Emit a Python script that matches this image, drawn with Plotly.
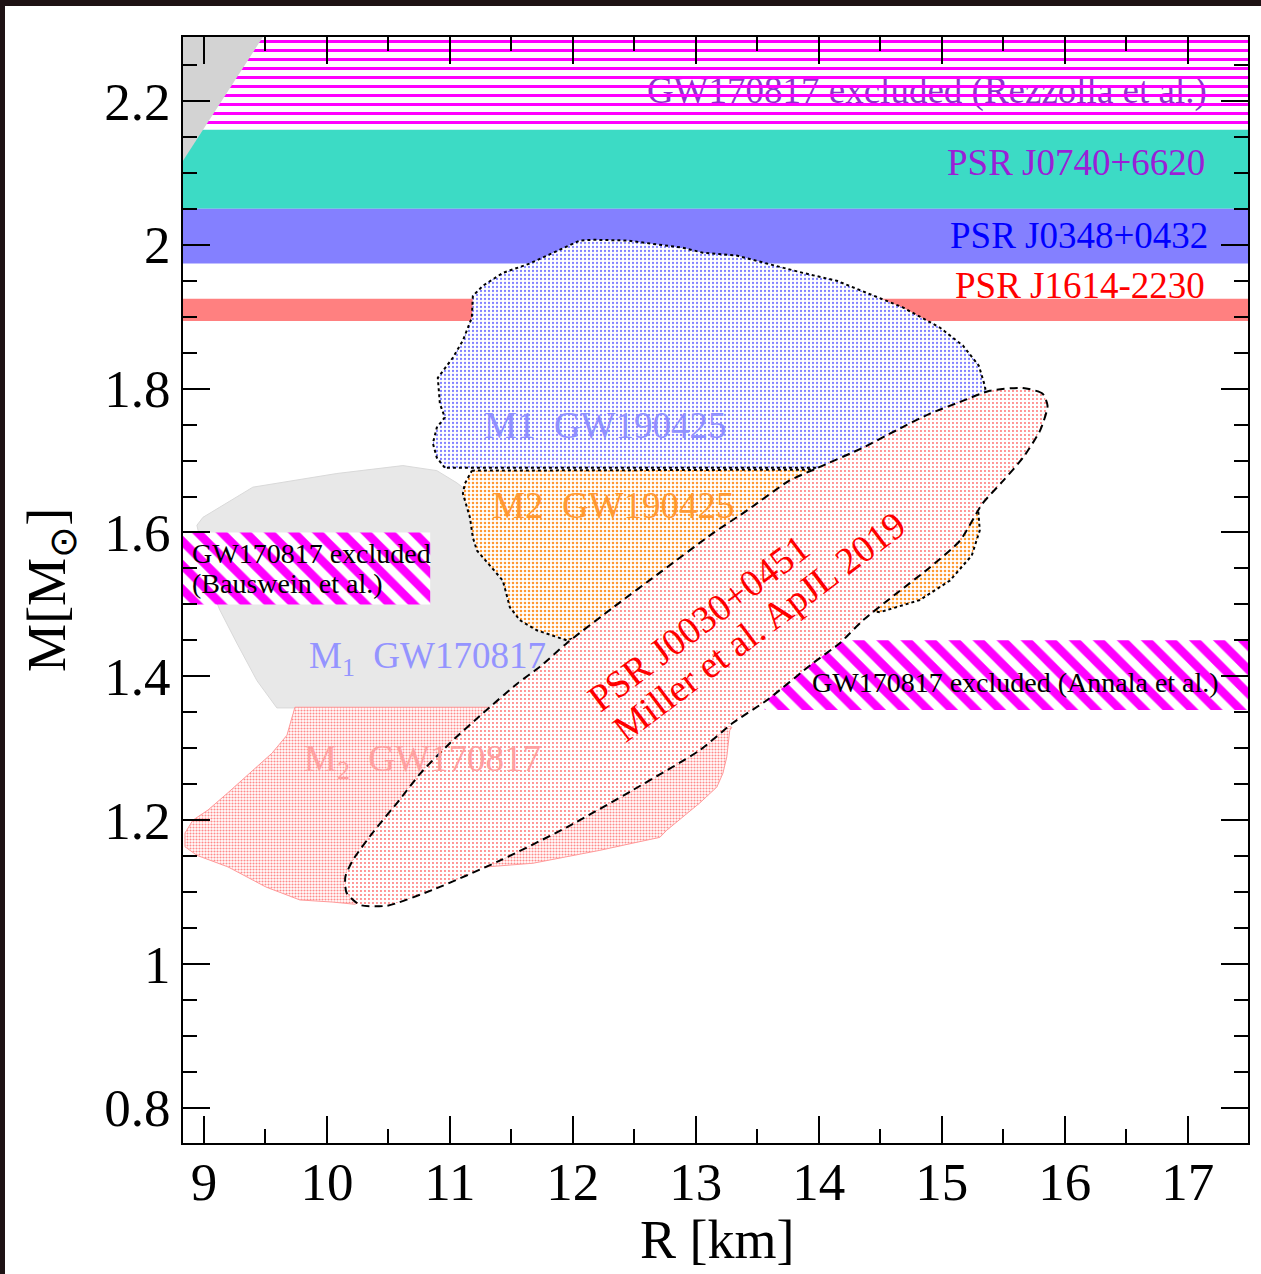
import plotly.graph_objects as go

# ---------------- axes ----------------
R_RANGE = [8.83, 17.49]
M_RANGE = [0.751, 2.289]
R_TICKS = [9, 10, 11, 12, 13, 14, 15, 16, 17]
R_TICK_LABELS = ["9", "10", "11", "12", "13", "14", "15", "16", "17"]
M_TICKS = [0.8, 1.0, 1.2, 1.4, 1.6, 1.8, 2.0, 2.2]
M_TICK_LABELS = ["0.8", "1", "1.2", "1.4", "1.6", "1.8", "2", "2.2"]

# ---------------- horizontal mass bands [M_low, M_high] ----------------
REZZOLLA_BAND = [2.16, 2.30]
J0740_BAND = [2.05, 2.16]
J0348_BAND = [1.974, 2.05]
J1614_BAND = [1.894, 1.925]
BAUSWEIN_M = [1.50, 1.60]
BAUSWEIN_R = [8.83, 10.84]
ANNALA_M = [1.353, 1.45]
ANNALA_R = [13.56, 17.49]

# causality-excluded corner
CAUSAL_R = [8.83, 9.48, 8.83]
CAUSAL_M = [2.117, 2.289, 2.289]

# ---------------- GW170817 regions ----------------
M1_GW170817_R = [8.943, 8.992, 9.398, 9.618, 10.081, 10.618, 10.894, 11.057, 11.244, 11.569,
                 12.138, 11.894, 11.407, 9.593, 9.431, 9.268, 9.130, 9.065, 8.943]
M1_GW170817_M = [1.610, 1.621, 1.663, 1.669, 1.682, 1.693, 1.686, 1.669, 1.644, 1.561,
                 1.464, 1.367, 1.356, 1.356, 1.394, 1.446, 1.492, 1.519, 1.610]

M2_GW170817_R = [9.740, 9.675, 9.553, 9.374, 9.195, 9.033, 8.911, 8.846, 8.846, 8.943,
                 9.195, 9.504, 9.780, 10.049, 10.228, 10.593, 11.301, 11.675, 12.220, 12.488,
                 12.707, 12.764, 12.894, 13.033, 13.171, 13.220, 13.252, 13.276, 13.293, 13.033,
                 11.569, 9.740]
M2_GW170817_M = [1.357, 1.318, 1.293, 1.265, 1.238, 1.214, 1.200, 1.182, 1.163, 1.151,
                 1.135, 1.107, 1.089, 1.086, 1.083, 1.117, 1.135, 1.140, 1.158, 1.168,
                 1.176, 1.186, 1.204, 1.224, 1.246, 1.265, 1.288, 1.325, 1.329, 1.346,
                 1.357, 1.357]

# ---------------- GW190425 regions ----------------
M1_GW190425_R = [10.959, 10.894, 10.862, 10.894, 10.959, 10.919, 10.902, 10.943, 11.024, 11.106,
                 11.179, 11.187, 11.268, 11.431, 11.650, 12.057, 12.163, 12.439, 12.650, 12.894,
                 13.057, 13.333, 13.577, 13.870, 14.146, 14.415, 14.683, 14.984, 15.171, 15.301,
                 15.350, 15.382, 15.390, 14.089, 10.959]
M1_GW190425_M = [1.690, 1.704, 1.724, 1.746, 1.760, 1.779, 1.815, 1.825, 1.843, 1.867,
                 1.899, 1.929, 1.943, 1.961, 1.974, 2.006, 2.007, 2.006, 2.001, 1.996,
                 1.989, 1.985, 1.974, 1.961, 1.950, 1.932, 1.913, 1.885, 1.860, 1.832,
                 1.804, 1.769, 1.742, 1.690, 1.690]

M2_GW190425_R = [11.179, 14.089, 15.228, 15.293, 15.309, 15.244, 15.065, 14.821, 14.496, 13.846,
                 12.220, 11.951, 11.707, 11.569, 11.488, 11.431, 11.220, 11.187, 11.163, 11.106,
                 11.122, 11.179]
M2_GW190425_M = [1.686, 1.6875, 1.686, 1.6375, 1.603, 1.568, 1.533, 1.506, 1.489, 1.506,
                 1.464, 1.450, 1.464, 1.478, 1.496, 1.533, 1.575, 1.593, 1.621, 1.654,
                 1.668, 1.686]

# ---------------- PSR J0030+0451 (Miller et al.) ----------------
J0030_R = [15.86, 15.82, 15.66, 15.39, 15.17, 14.90, 14.63, 14.36, 13.98, 13.76,
           13.42, 13.14, 12.73, 12.33, 11.95, 11.73, 11.55, 11.27, 11.00, 10.76,
           10.59, 10.37, 10.21, 10.15, 10.16, 10.27, 10.49, 10.86, 11.41, 11.95,
           12.49, 13.03, 13.30, 13.58, 13.95, 14.17, 14.36, 14.63, 14.90, 15.15,
           15.33, 15.50, 15.66, 15.80, 15.86]
J0030_M = [1.776, 1.793, 1.801, 1.797, 1.783, 1.765, 1.742, 1.718, 1.689, 1.672,
           1.631, 1.599, 1.547, 1.496, 1.446, 1.413, 1.390, 1.349, 1.307, 1.265,
           1.228, 1.182, 1.144, 1.121, 1.099, 1.082, 1.081, 1.103, 1.144, 1.190,
           1.242, 1.297, 1.335, 1.367, 1.418, 1.446, 1.478, 1.515, 1.551, 1.589,
           1.640, 1.672, 1.704, 1.742, 1.776]

FONT = "Liberation Serif"

fig = go.Figure()


def band(lo_hi, r_lim=R_RANGE, **kw):
    x0, x1 = r_lim
    lo, hi = lo_hi
    return go.Scatter(x=[x0, x1, x1, x0, x0], y=[lo, lo, hi, hi, lo], mode="lines",
                      fill="toself", line=dict(width=0), hoverinfo="skip",
                      showlegend=False, **kw)


def region(xs, ys, **kw):
    return go.Scatter(x=xs, y=ys, mode="lines", fill="toself", hoverinfo="skip",
                      showlegend=False, **kw)


def pattern(shape, size, solidity, fg, bg="#ffffff"):
    return dict(shape=shape, size=size, solidity=solidity, fgcolor=fg, fgopacity=1,
                bgcolor=bg)


# Rezzolla label underneath the striped band
fig.add_trace(go.Scatter(x=[17.155], y=[2.21], mode="text",
                         text=["GW170817 excluded (Rezzolla et al.)"],
                         textposition="middle left",
                         textfont=dict(family=FONT, size=37, color="#8a35c8"),
                         hoverinfo="skip", showlegend=False))
fig.add_trace(band(REZZOLLA_BAND, fillpattern=pattern("-", 9, 0.33, "#ff00ff",
                                                      "rgba(0,0,0,0)")))
fig.add_trace(band(J0740_BAND, fillcolor="#3cdbc5"))
fig.add_trace(band(J0348_BAND, fillcolor="#8480ff"))
fig.add_trace(band(J1614_BAND, fillcolor="#ff8080"))
fig.add_trace(region(CAUSAL_R, CAUSAL_M, fillcolor="#d3d3d3", line=dict(width=0)))

fig.add_trace(region(M1_GW170817_R, M1_GW170817_M, fillcolor="#e8e8e8",
                     line=dict(color="#d9d9d9", width=1)))
fig.add_trace(region(M2_GW170817_R, M2_GW170817_M,
                     line=dict(color="#ff9a9a", width=1),
                     fillpattern=pattern(".", 3, 0.4, "#ff8a8a")))
fig.add_trace(band(BAUSWEIN_M, r_lim=BAUSWEIN_R,
                   fillpattern=pattern("\\", 17, 0.5, "#ff00ff")))

fig.add_trace(region(M1_GW190425_R, M1_GW190425_M,
                     line=dict(color="#000000", width=2, dash="dot"),
                     fillpattern=pattern(".", 4, 0.25, "#8080ff")))
fig.add_trace(region(M2_GW190425_R, M2_GW190425_M,
                     line=dict(color="#000000", width=2, dash="dot"),
                     fillpattern=pattern(".", 4, 0.32, "#ff9933")))
fig.add_trace(band(ANNALA_M, r_lim=ANNALA_R,
                   fillpattern=pattern("\\", 17, 0.5, "#ff00ff")))
fig.add_trace(region(J0030_R, J0030_M,
                     line=dict(color="#000000", width=2, dash="8px,5px", shape="spline",
                               smoothing=0.6),
                     fillpattern=pattern(".", 4, 0.18, "#ff7070")))


def label(x, y, text, color, size, xanchor="left", angle=0, ref="data"):
    fig.add_annotation(x=x, y=y, text=text, showarrow=False, xanchor=xanchor,
                       yanchor="middle", textangle=angle,
                       xref="x" if ref == "data" else "paper",
                       yref="y" if ref == "data" else "paper",
                       font=dict(family=FONT, size=size, color=color))


NB = "\u00a0"
label(17.16, 2.114, "PSR J0740+6620", "#9a1fd6", 37, xanchor="right")
label(17.18, 2.0125, "PSR J0348+0432", "#0000ff", 37, xanchor="right")
label(17.16, 1.943, "PSR J1614-2230", "#ff0000", 37, xanchor="right")
label(11.26, 1.749, "M1" + NB * 2 + "GW190425", "#9090ff", 37)
label(11.325, 1.6375, "M2" + NB * 2 + "GW190425", "#ff9933", 37)
label(8.886, 1.571, "GW170817 excluded", "#000000", 28)
label(8.886, 1.529, "(Bauswein et al.)", "#000000", 28)
label(9.837, 1.425, "M<sub>1</sub>" + NB * 2 + "GW170817", "#9494ff", 37)
label(9.797, 1.282, "M<sub>2</sub>" + NB * 2 + "GW170817", "#ffa0a0", 37)
label(15.60, 1.392, "GW170817 excluded (Annala et al.)", "#000000", 28, xanchor="center")
label(13.02, 1.474, "PSR J0030+0451", "#ff0000", 38, xanchor="center", angle=-37)
label(13.51, 1.469, "Miller et al. ApJL 2019", "#ff0000", 38, xanchor="center", angle=-37)

# axis titles
label(0.5023, -0.0877, "R [km]", "#000000", 54, xanchor="center", ref="paper")
label(-0.125, 0.5, "M[M<sub>\u2299</sub>]", "#000000", 54, xanchor="center", angle=-90,
      ref="paper")

axis_common = dict(showline=True, linewidth=2, linecolor="#000000", mirror="allticks",
                   ticks="inside", ticklen=27, tickwidth=2, tickcolor="#000000",
                   showgrid=False, zeroline=False,
                   tickfont=dict(family=FONT, size=53, color="#000000"))

fig.update_xaxes(range=R_RANGE, tickmode="array", tickvals=R_TICKS, ticktext=R_TICK_LABELS,
                 ticklabelstandoff=-9,
                 minor=dict(dtick=0.5, tick0=9, ticklen=14, tickwidth=2, ticks="inside",
                            tickcolor="#000000", showgrid=False),
                 **axis_common)
fig.update_yaxes(range=M_RANGE, tickmode="array", tickvals=M_TICKS, ticktext=M_TICK_LABELS,
                 minor=dict(dtick=0.05, tick0=0.8, ticklen=14, tickwidth=2, ticks="inside",
                            tickcolor="#000000", showgrid=False),
                 **axis_common)

# figure sits at (5, 6) in the page; the page background supplies the dark frame strips
fig.update_layout(width=1256, height=1268,
                  margin=dict(l=178, r=13, t=31, b=131),
                  paper_bgcolor="#ffffff", plot_bgcolor="#ffffff",
                  showlegend=False)

fig.write_html("out.html",
               post_script="document.body.style.margin='6px 0 0 5px';"
                           "document.body.style.background='#1e1214';")
